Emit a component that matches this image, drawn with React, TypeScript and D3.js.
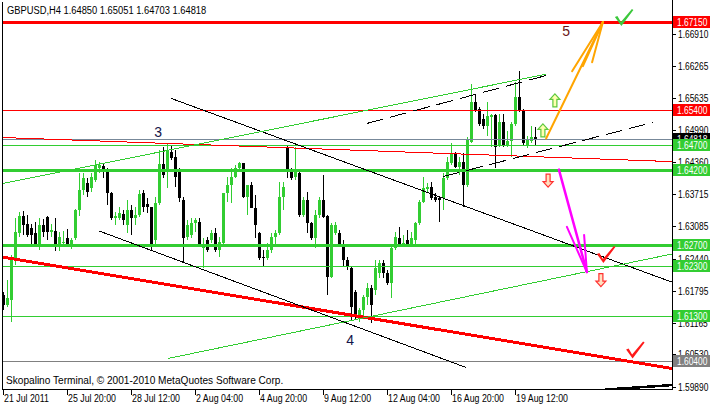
import React from 'react';
import * as d3 from 'd3';

const chartTitle = 'GBPUSD,H4  1.64850 1.65051 1.64703 1.64818';
const footerText = 'Skopalino Terminal, \u00a9 2001-2010 MetaQuotes Software Corp.';

const opens = [
  1.6171, 1.6151, 1.6161, 1.6245, 1.6295, 1.6329, 1.6313, 1.6305, 1.6295, 1.6271,
  1.6311, 1.6327, 1.6297, 1.6299, 1.6271, 1.6275, 1.6285, 1.6273, 1.6285, 1.6341,
  1.6381, 1.6395, 1.6385, 1.6401, 1.6425, 1.6429, 1.6417, 1.6375, 1.6325, 1.6325,
  1.6333, 1.6311, 1.6341, 1.6325, 1.6331, 1.6375, 1.6353, 1.6347, 1.6281, 1.6355,
  1.6433, 1.6417, 1.6457, 1.6447, 1.6417, 1.6361, 1.6287, 1.6291, 1.6315, 1.6317,
  1.6265, 1.6281, 1.6281, 1.6295, 1.6261, 1.6275, 1.6375, 1.6391, 1.6407, 1.6425,
  1.6435, 1.6367, 1.6391, 1.6345, 1.6295, 1.6247, 1.6245, 1.6261, 1.6287, 1.6295,
  1.6367, 1.6467, 1.6421, 1.6407, 1.6415, 1.6331, 1.6361, 1.6315, 1.6285, 1.6331,
  1.6361, 1.6329, 1.6207, 1.6295, 1.6295, 1.6271, 1.6241, 1.6225, 1.6177, 1.6131,
  1.6141, 1.6167, 1.6185, 1.6181, 1.6215, 1.6235, 1.6215, 1.6195, 1.6265, 1.6285,
  1.6271, 1.6281, 1.6271, 1.6281, 1.6315, 1.6357, 1.6383, 1.6387, 1.6367, 1.6365,
  1.6365, 1.6405, 1.6435, 1.6453, 1.6427, 1.6437, 1.6391, 1.6477, 1.6555, 1.6541,
  1.6521, 1.6507, 1.6525, 1.6529, 1.6471, 1.6515, 1.6471, 1.6479, 1.6511, 1.6565,
  1.6537, 1.6471, 1.6479, 1.6485,
];
const highs = [
  1.6177, 1.6201, 1.6251, 1.6325, 1.6337, 1.6339, 1.6331, 1.6313, 1.6317, 1.6325,
  1.6323, 1.6329, 1.6313, 1.6325, 1.6297, 1.6299, 1.6303, 1.6285, 1.6343, 1.6415,
  1.6415, 1.6405, 1.6415, 1.6441, 1.6437, 1.6435, 1.6425, 1.6377, 1.6337, 1.6347,
  1.6341, 1.6361, 1.6351, 1.6347, 1.6381, 1.6381, 1.6365, 1.6347, 1.6367, 1.6461,
  1.6467, 1.6475, 1.6469, 1.6461, 1.6425, 1.6367, 1.6321, 1.6325, 1.6325, 1.6325,
  1.6285, 1.6287, 1.6301, 1.6305, 1.6287, 1.6375, 1.6407, 1.6425, 1.6431, 1.6437,
  1.6435, 1.6391, 1.6397, 1.6371, 1.6297, 1.6261, 1.6275, 1.6295, 1.6301, 1.6397,
  1.6397, 1.6471, 1.6425, 1.6467, 1.6421, 1.6367, 1.6377, 1.6317, 1.6341, 1.6367,
  1.6411, 1.6331, 1.6315, 1.6317, 1.6301, 1.6281, 1.6247, 1.6227, 1.6181, 1.6145,
  1.6171, 1.6195, 1.6191, 1.6241, 1.6241, 1.6241, 1.6221, 1.6271, 1.6297, 1.6307,
  1.6291, 1.6301, 1.6297, 1.6317, 1.6361, 1.6407, 1.6395, 1.6397, 1.6375, 1.6367,
  1.6415, 1.6447, 1.6475, 1.6457, 1.6447, 1.6455, 1.6485, 1.6591, 1.6571, 1.6545,
  1.6531, 1.6555, 1.6531, 1.6531, 1.6531, 1.6531, 1.6497, 1.6515, 1.6595, 1.6617,
  1.6541, 1.6487, 1.6507, 1.65051,
];
const lows = [
  1.6141, 1.6147, 1.6117, 1.6231, 1.6287, 1.6291, 1.6287, 1.6273, 1.6271, 1.6261,
  1.6287, 1.6281, 1.6287, 1.6259, 1.6259, 1.6267, 1.6269, 1.6263, 1.6281, 1.6329,
  1.6371, 1.6367, 1.6377, 1.6397, 1.6415, 1.6405, 1.6351, 1.6321, 1.6311, 1.6321,
  1.6311, 1.6295, 1.6291, 1.6311, 1.6327, 1.6337, 1.6335, 1.6259, 1.6271, 1.6351,
  1.6405, 1.6385, 1.6441, 1.6387, 1.6357, 1.6235, 1.6281, 1.6285, 1.6297, 1.6267,
  1.6225, 1.6257, 1.6275, 1.6257, 1.6247, 1.6271, 1.6357, 1.6355, 1.6405, 1.6417,
  1.6365, 1.6331, 1.6345, 1.6285, 1.6241, 1.6227, 1.6241, 1.6255, 1.6271, 1.6291,
  1.6341, 1.6405, 1.6401, 1.6401, 1.6327, 1.6327, 1.6295, 1.6281, 1.6265, 1.6325,
  1.6325, 1.6171, 1.6205, 1.6291, 1.6267, 1.6227, 1.6221, 1.6121, 1.6121, 1.6117,
  1.6127, 1.6151, 1.6115, 1.6171, 1.6205, 1.6205, 1.6191, 1.6165, 1.6261, 1.6267,
  1.6267, 1.6267, 1.6267, 1.6267, 1.6311, 1.6355, 1.6375, 1.6361, 1.6357, 1.6317,
  1.6341, 1.6401, 1.6431, 1.6425, 1.6411, 1.6347, 1.6387, 1.6475, 1.6535, 1.6507,
  1.6501, 1.6487, 1.6467, 1.6425, 1.6467, 1.6467, 1.6467, 1.6447, 1.6507, 1.6535,
  1.6471, 1.6465, 1.6475, 1.64703,
];
const closes = [
  1.6151, 1.6165, 1.6245, 1.6297, 1.6329, 1.6311, 1.6291, 1.6291, 1.6271, 1.6311,
  1.6297, 1.6297, 1.6301, 1.6271, 1.6287, 1.6277, 1.6273, 1.6281, 1.6341, 1.6381,
  1.6405, 1.6377, 1.6407, 1.6431, 1.6431, 1.6421, 1.6375, 1.6325, 1.6329, 1.6335,
  1.6321, 1.6341, 1.6325, 1.6331, 1.6373, 1.6347, 1.6347, 1.6267, 1.6355, 1.6433,
  1.6411, 1.6461, 1.6445, 1.6407, 1.6365, 1.6285, 1.6311, 1.6315, 1.6321, 1.6271,
  1.6273, 1.6261, 1.6295, 1.6261, 1.6277, 1.6375, 1.6391, 1.6407, 1.6425, 1.6435,
  1.6367, 1.6391, 1.6345, 1.6311, 1.6245, 1.6245, 1.6261, 1.6287, 1.6295, 1.6367,
  1.6387, 1.6421, 1.6405, 1.6421, 1.6331, 1.6361, 1.6315, 1.6285, 1.6331, 1.6361,
  1.6327, 1.6207, 1.6311, 1.6311, 1.6271, 1.6241, 1.6227, 1.6147, 1.6131, 1.6141,
  1.6167, 1.6185, 1.6151, 1.6225, 1.6235, 1.6215, 1.6195, 1.6265, 1.6287, 1.6271,
  1.6275, 1.6271, 1.6285, 1.6315, 1.6357, 1.6385, 1.6387, 1.6365, 1.6361, 1.6361,
  1.6405, 1.6437, 1.6455, 1.6427, 1.6437, 1.6391, 1.6481, 1.6555, 1.6537, 1.6511,
  1.6507, 1.6527, 1.6529, 1.6467, 1.6515, 1.6471, 1.6479, 1.6511, 1.6565, 1.6537,
  1.6475, 1.6481, 1.6485, 1.64818,
];

const timeLabels = ['21 Jul 2011', '25 Jul 20:00', '28 Jul 12:00', '2 Aug 04:00', '4 Aug 20:00', '9 Aug 12:00', '12 Aug 04:00', '16 Aug 20:00', '19 Aug 12:00'];
const timeLabelBars = [0, 16, 32, 48, 64, 80, 96, 112, 128];
const priceTicks = [1.6691, 1.66265, 1.65635, 1.6499, 1.6436, 1.63715, 1.63085, 1.6244, 1.61795, 1.61165, 1.6053, 1.5989];

const redLevels = [1.6715, 1.654];
const greenLevels = [1.647, 1.642, 1.627, 1.623, 1.613];
const grayLevels = [1.604];
const bidPrice = 1.64818;

// trend objects: [bar1, price1, bar2, price2]
const thinRedTrend = [-0.325, 1.6485, 167.175, 1.6437];
const thickRedTrend = [-0.325, 1.6247, 167.175, 1.6025];
const blackChannel = [[41.9, 1.6563, 167.175, 1.6197], [23.9, 1.6299, 115.7, 1.6027]];
const greenChannel = [[-0.325, 1.6393, 135.7, 1.6611], [41.2, 1.6045, 167.175, 1.6253]];
const dashedChannel = [[90.9, 1.6513, 136.9, 1.6611], [109.9, 1.6407, 162.4, 1.6515]];
const bottomTrend = [150.4, 1.5983, 167.175, 1.5992];
const topTrend = [56.2, 1.6757, 116.2, 1.6757];

const orangeShaft = [135.7, 1.6483, 149.9, 1.6715];
const orangeHeadBars = [142.2, 144.9, 147.2];
const orangeHeadPrices = [1.6617, 1.6627, 1.6635];
const magentaShaft = [138.9, 1.6421, 145.9, 1.6217];
const magentaHeadBars = [140.9, 145.2];
const magentaHeadPrices = [1.6307, 1.6291];

const waveLabels = ['3', '4', '5'];
const waveBars = [38.7, 86.7, 140.7];
const wavePrices = [1.6495, 1.6081, 1.6697];

const checkBars = [149.9, 157.2, 154.4];
const checkPrices = [1.6237, 1.6047, 1.6709];
const checkKinds = ['red', 'red', 'green'];

const upArrowBars = [137.9, 134.9];
const upArrowPrices = [1.6559, 1.6499];
const downArrowBars = [136.2, 149.4];
const downArrowPrices = [1.6399, 1.6201];

const W = 710;
const H = 406;
const L = 2, R = 672, T = 2, B = 389;
const FONT = "'Liberation Sans', Arial, sans-serif";
const GREEN = '#32CD32';

export default function App() {
  const x = d3.scaleLinear().domain([-0.325, 167.175]).range([L, R]);
  const y = d3.scaleLinear().domain([1.59842, 1.67548]).range([B, T]);

  const seg = (s: number[], color: string, width: number, dash?: string, key?: string) => (
    <line key={key} x1={x(s[0])} y1={y(s[1])} x2={x(s[2])} y2={y(s[3])}
      stroke={color} strokeWidth={width} strokeDasharray={dash} />
  );

  const candles = opens.map((o, i) => {
    const c = closes[i];
    const cx = Math.round(x(i));
    const bull = c >= o;
    const col = bull ? GREEN : '#000';
    const yt = Math.round(y(Math.max(o, c)));
    const yb = Math.round(y(Math.min(o, c)));
    return (
      <g key={i}>
        <rect x={cx} y={Math.round(y(highs[i]))} width={1} height={Math.max(1, Math.round(y(lows[i])) - Math.round(y(highs[i])))} fill={col} />
        <rect x={cx - 1} y={yt} width={3} height={Math.max(1, yb - yt)} fill={col} />
      </g>
    );
  });

  const thickGreen = new Set([1.642, 1.627]);

  const sText = (key: string, tx: number, ty: number, txt: string, size: number, sx: number, fill = '#000') => (
    <text key={key} transform={`translate(${tx},${ty}) scale(${sx},1)`} fontSize={size} fontFamily={FONT} fill={fill}>{txt}</text>
  );

  const boxLabel = (p: number, bg: string, key: string) => {
    const yy = Math.round(y(p));
    return (
      <g key={key}>
        <rect x={R + 1} y={yy - 6} width={W - R} height={12} fill={bg} />
        {sText(key + 't', R + 5, yy + 4, p.toFixed(5), 10.5, 0.8, '#fff')}
      </g>
    );
  };

  const upPath = 'M0,-6.5 L5,-1 L2,-1 L2,6.5 L-2,6.5 L-2,-1 L-5,-1 Z';
  const downPath = 'M0,6.5 L5,1 L2,1 L2,-6.5 L-2,-6.5 L-2,1 L-5,1 Z';
  const checkPath = 'M-6,-8 L-3.5,-9 L0,-3 L11,-16 L12.5,-15 L0.5,1 Z';

  return (
    <svg width={W} height={H} style={{ position: 'fixed', left: 0, top: 0, background: '#fff' }}>
      <rect x={0} y={0} width={W} height={H} fill="#fff" />
      <defs>
        <clipPath id="plot"><rect x={L} y={T} width={R - L} height={B - T} /></clipPath>
      </defs>
      <g shapeRendering="crispEdges">{candles}</g>
      <g clipPath="url(#plot)" shapeRendering="crispEdges">
        {redLevels.map((p, i) => (
          <line key={'rl' + i} x1={L} x2={R} y1={Math.round(y(p)) + 0.5} y2={Math.round(y(p)) + 0.5} stroke="#ff0000" strokeWidth={i === 0 ? 3 : 1} />
        ))}
        <line x1={L} x2={R} y1={Math.round(y(bidPrice)) + 0.5} y2={Math.round(y(bidPrice)) + 0.5} stroke="#778899" strokeWidth={1} />
        {greenLevels.map((p, i) => (
          <line key={'gl' + i} x1={L} x2={R} y1={Math.round(y(p)) + 0.5} y2={Math.round(y(p)) + 0.5} stroke={GREEN} strokeWidth={thickGreen.has(p) ? 3 : 1} />
        ))}
        {grayLevels.map((p, i) => (
          <line key={'yl' + i} x1={L} x2={R} y1={Math.round(y(p)) + 0.5} y2={Math.round(y(p)) + 0.5} stroke="#808080" strokeWidth={1} />
        ))}
        {seg(thinRedTrend, '#ff0000', 1)}
        {seg(thickRedTrend, '#ff0000', 3)}
        {blackChannel.map((s, i) => seg(s, '#000', 1, undefined, 'bc' + i))}
        {greenChannel.map((s, i) => seg(s, GREEN, 1, undefined, 'gc' + i))}
        {dashedChannel.map((s, i) => seg(s, '#000', 1, '17,7', 'dc' + i))}
        {seg(bottomTrend, '#000', 2.5)}
        {seg(topTrend, '#000', 1)}
      </g>
      <g stroke="#FFA500" strokeWidth={2} strokeLinecap="round">
        {seg(orangeShaft, '#FFA500', 2)}
        {orangeHeadBars.map((b, i) => (
          <line key={'oh' + i} x1={x(orangeShaft[2])} y1={y(orangeShaft[3])} x2={x(b)} y2={y(orangeHeadPrices[i])} />
        ))}
      </g>
      <g stroke="#FF00FF" strokeWidth={2} strokeLinecap="round">
        {seg(magentaShaft, '#FF00FF', 2.5)}
        {magentaHeadBars.map((b, i) => (
          <line key={'mh' + i} x1={x(magentaShaft[2])} y1={y(magentaShaft[3])} x2={x(b)} y2={y(magentaHeadPrices[i])} />
        ))}
      </g>
      {upArrowBars.map((b, i) => (
        <g key={'ua' + i} transform={`translate(${x(b)},${y(upArrowPrices[i])})`}>
          <path d={upPath} fill="#ffffb0" stroke="#5cc83c" strokeWidth={1.2} />
        </g>
      ))}
      {downArrowBars.map((b, i) => (
        <g key={'da' + i} transform={`translate(${x(b)},${y(downArrowPrices[i])})`}>
          <path d={downPath} fill="#ffe0c0" stroke="#ff3030" strokeWidth={1.2} />
        </g>
      ))}
      {checkBars.map((b, i) => (
        <path key={'ck' + i} transform={`translate(${x(b)},${y(checkPrices[i])})`} d={checkPath}
          fill={checkKinds[i] === 'red' ? '#ff1a1a' : '#3cc83c'} />
      ))}
      {waveLabels.map((t, i) => (
        <text key={'wl' + i} x={x(waveBars[i])} y={y(wavePrices[i]) + 5} textAnchor="middle" fontSize={14} fontFamily={FONT}
          fill={i === 2 ? '#6a1616' : '#14144a'}>{t}</text>
      ))}
      <g shapeRendering="crispEdges" stroke="#000" strokeWidth={1}>
        <line x1={L + 0.5} x2={L + 0.5} y1={T} y2={B + 1} />
        <line x1={L} x2={R + 1} y1={B + 0.5} y2={B + 0.5} />
        <line x1={R + 0.5} x2={R + 0.5} y1={0} y2={B + 1} />
        {priceTicks.map((p, i) => (
          <line key={'pt' + i} x1={R} x2={R + 4} y1={Math.round(y(p)) + 0.5} y2={Math.round(y(p)) + 0.5} />
        ))}
        {timeLabelBars.map((b, i) => (
          <line key={'tt' + i} x1={Math.round(x(b)) + 0.5} x2={Math.round(x(b)) + 0.5} y1={B} y2={B + 6} />
        ))}
      </g>
      {priceTicks.map((p, i) => sText('pl' + i, R + 6, Math.round(y(p)) + 4, p.toFixed(5), 10.5, 0.8))}
      {timeLabels.map((t, i) => sText('tl' + i, Math.round(x(timeLabelBars[i])) + 1, 402, t, 10.5, 0.84))}
      {boxLabel(bidPrice, '#000', 'bid')}
      {redLevels.map((p, i) => boxLabel(p, '#ff0000', 'rb' + i))}
      {greenLevels.map((p, i) => boxLabel(p, GREEN, 'gb' + i))}
      {grayLevels.map((p, i) => boxLabel(p, '#808080', 'yb' + i))}
      {sText('title', 7, 14, chartTitle, 11, 0.85)}
      {sText('footer', 6, 384, footerText, 11, 0.92)}
    </svg>
  );
}
